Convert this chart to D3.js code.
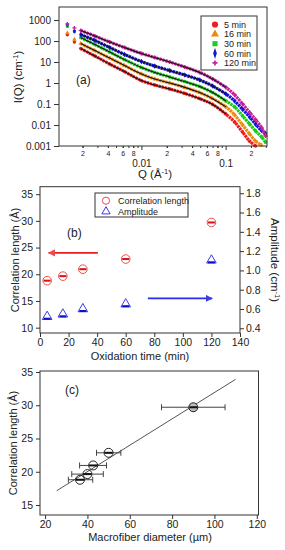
<!DOCTYPE html>
<html><head><meta charset="utf-8">
<script src="https://cdn.jsdelivr.net/npm/d3@7"></script>
<style>body{margin:0;background:#fff}svg{display:block}text{font-family:"Liberation Sans",Arial,sans-serif;fill:#222}</style>
</head><body><svg id="c" width="285" height="550"></svg>
<script>
// ---------- Panel (a) data ----------
const qValues = [0.00132,0.0016,0.0019,0.0028,0.0042,0.0063,0.010,0.0144,0.0217,0.0327,0.0492,0.0702,0.1008,0.128,0.159,0.193,0.227,0.267,0.298];
const i5   = [200,90,44,19.3,8.0,3.5,1.3,0.80,0.52,0.32,0.18,0.095,0.033,0.0139,0.0046,0.0017,0.001,null,null];
const i16  = [240,120,76,35,15.5,6.8,2.7,1.56,1.0,0.62,0.35,0.18,0.073,0.030,0.010,0.0037,0.0017,0.0011,null];
const i30  = [500,280,146,68,30,13,5.5,3.2,1.93,1.17,0.68,0.35,0.14,0.073,0.027,0.011,0.0052,0.0027,0.0015];
const i60  = [600,300,204,106,49,23,10.5,6.4,3.9,2.4,1.39,0.72,0.30,0.14,0.056,0.024,0.011,0.0055,0.004];
const i120 = [650,420,316,173,90,49,25.5,16.4,10,5.8,3.2,1.56,0.62,0.27,0.10,0.039,0.018,0.0075,0.003];
const seriesNames = ["5 min","16 min","30 min","60 min","120 min"];
const yTicksA = [1000,100,10,1,0.1,0.01,0.001];
const yTickLabelsA = ["1000","100","10","1","0.1","0.01","0.001"];
const xMajorA = [0.01,0.1];
const xMajorLabelsA = ["0.01","0.1"];
const xMinorA = [0.002,0.003,0.004,0.005,0.006,0.007,0.008,0.009,0.02,0.03,0.04,0.05,0.06,0.07,0.08,0.09,0.2,0.3];
const xMinorLabeledA = [0.002,0.004,0.006,0.008,0.02,0.04,0.06,0.08,0.2];
const xMinorLabelsA = ["2","4","6","8","2","4","6","8","2"];

// ---------- Panel (b) data ----------
const times = [5,16,30,60,120];
const corrLength = [18.8,19.65,20.95,22.85,29.7];
const amplitude = [0.52,0.545,0.60,0.65,1.105];
const xTicksB = [0,20,40,60,80,100,120,140];
const yTicksBL = [10,15,20,25,30,35];
const yTicksBR = [0.4,0.6,0.8,1.0,1.2,1.4,1.6,1.8];
const redArrow = {x:[40.5,6], y:24.0};
const blueArrow = {x:[75.5,120.5], y:0.71};

// ---------- Panel (c) data ----------
const diameters = [36.5,40,42.7,50,90];
const diamErrLo = [31,32.6,36.3,44.3,75];
const diamErrHi = [42.5,47.5,49,55.8,105];
const fitX = [25.5,110];
const fitY = [17.15,33.9];
const xTicksC = [20,40,60,80,100,120];
const yTicksC = [15,20,25,30,35];

const svg = d3.select("#c");
svg.append("rect").attr("width",285).attr("height",550).attr("fill","#fff");

function styleAxis(g){
  g.select(".domain").remove();
  g.selectAll(".tick line").attr("stroke","#333");
  g.selectAll("text").attr("fill","#222");
}

// ================= Panel A =================
const colors = ["#ee1c1c","#ee8a0c","#1ccc1c","#1414d8","#c8229a"];
const symbols = [d3.symbolCircle,d3.symbolTriangle,d3.symbolSquare,d3.symbolDiamond,d3.symbolCross];
const seriesA = [i5,i16,i30,i60,i120];
const xA = d3.scaleLog().domain([0.00105,0.31]).range([59,267]);
const yA = d3.scaleLog().domain([0.001,4170]).range([146,7]).clamp(true);
const gA = svg.append("g");

seriesA.forEach((s,k)=>{
  const pts = qValues.map((q,i)=>({q,v:s[i],i})).filter(d=>d.v!=null);
  const band = pts.filter(d=>d.i>=2);
  gA.append("path").datum(band)
    .attr("d",d3.line().x(d=>xA(d.q)).y(d=>yA(d.v)).curve(d3.curveCatmullRom))
    .attr("fill","none").attr("stroke",colors[k]).attr("stroke-width",3.2).attr("stroke-dasharray","2.5,0.6");
  gA.selectAll(null).data(pts).join("path")
    .attr("transform",d=>`translate(${xA(d.q)},${yA(d.v)})`)
    .attr("d",d3.symbol().type(symbols[k]).size(9))
    .attr("fill",colors[k]);
});
seriesA.forEach((s,k)=>{
  const fit = qValues.map((q,i)=>({q,v:s[i],i})).filter(d=>d.i>=2 && d.i<=12);
  gA.append("path").datum(fit)
    .attr("d",d3.line().x(d=>xA(d.q)).y(d=>yA(d.v)).curve(d3.curveCatmullRom))
    .attr("fill","none").attr("stroke","#111").attr("stroke-width",1.1);
});
gA.append("rect").attr("x",59).attr("y",7).attr("width",208).attr("height",139)
  .attr("fill","none").attr("stroke","#333").attr("stroke-width",1);
gA.append("g").attr("transform","translate(59,0)")
  .call(d3.axisLeft(yA).tickValues(yTicksA).tickFormat((d,i)=>yTickLabelsA[i]).tickSize(5).tickPadding(3))
  .call(styleAxis).call(g=>g.selectAll("text").attr("font-size",10));
gA.append("g").attr("transform","translate(0,146)")
  .call(d3.axisBottom(xA).tickValues(xMajorA).tickFormat((d,i)=>xMajorLabelsA[i]).tickSize(4).tickPadding(10))
  .call(styleAxis).call(g=>g.selectAll("text").attr("font-size",10));
gA.append("g").attr("transform","translate(0,146)")
  .call(d3.axisBottom(xA).tickValues(xMinorA).tickFormat("").tickSize(2))
  .call(styleAxis);
gA.append("g").attr("transform","translate(0,146)")
  .call(d3.axisBottom(xA).tickValues(xMinorLabeledA).tickFormat((d,i)=>xMinorLabelsA[i]).tickSize(2).tickPadding(3))
  .call(styleAxis).call(g=>g.selectAll("text").attr("font-size",7));
gA.append("text").attr("x",155).attr("y",178).attr("text-anchor","middle").attr("font-size",11.5)
  .html('Q (Å<tspan dy="-4" font-size="7.5">-1</tspan><tspan dy="4">)</tspan>');
gA.append("text").attr("transform","translate(22,77) rotate(-90)").attr("text-anchor","middle").attr("font-size",11.5)
  .html('I(Q) (cm<tspan dy="-4" font-size="7.5">-1</tspan><tspan dy="4">)</tspan>');
gA.append("text").attr("x",76).attr("y",84).attr("font-size",12).attr("font-family","Liberation Serif,serif").text("(a)");
const legA = gA.append("g");
legA.append("rect").attr("x",201).attr("y",16).attr("width",56).attr("height",54)
  .attr("fill","#fff").attr("stroke","#333").attr("stroke-width",1);
const legSizes = [30,28,26,22,14];
seriesNames.forEach((n,k)=>{
  const yy = 24.5 + k*9.6;
  legA.append("path")
    .attr("d",d3.symbol().type(symbols[k]).size(legSizes[k])).attr("fill",colors[k])
    .attr("transform", k==3?`translate(215,${yy}) scale(0.7,1.3)`:`translate(215,${yy})`);
  legA.append("text").attr("x",224).attr("y",yy+3.2).attr("font-size",9).text(n);
});

// ================= Panel B =================
const xB = d3.scaleLinear().domain([0,140]).range([40,240]);
const yBL = d3.scaleLinear().domain([9.0,36.4]).range([333,186.7]);
const yBR = d3.scaleLinear().domain([0.351,1.868]).range([333,186.7]);
const gB = svg.append("g");
gB.append("rect").attr("x",40).attr("y",186.7).attr("width",200).attr("height",146.3)
  .attr("fill","none").attr("stroke","#333");
gB.append("g").attr("transform","translate(40,0)")
  .call(d3.axisLeft(yBL).tickValues(yTicksBL).tickSize(4).tickPadding(3))
  .call(styleAxis).call(g=>g.selectAll("text").attr("font-size",10.5));
gB.append("g").attr("transform","translate(240,0)")
  .call(d3.axisRight(yBR).tickValues(yTicksBR).tickFormat(d3.format(".1f")).tickSize(4).tickPadding(2))
  .call(styleAxis).call(g=>g.selectAll("text").attr("font-size",10.5));
gB.append("g").attr("transform","translate(0,333)")
  .call(d3.axisBottom(xB).tickValues(xTicksB).tickSize(4).tickPadding(2))
  .call(styleAxis).call(g=>g.selectAll("text").attr("font-size",10.5));
gB.append("text").attr("x",140).attr("y",360).attr("text-anchor","middle").attr("font-size",11).text("Oxidation time (min)");
gB.append("text").attr("transform","translate(19,260) rotate(-90)").attr("text-anchor","middle").attr("font-size",11).text("Correlation length (Å)");
gB.append("text").attr("transform","translate(271,260) rotate(90)").attr("text-anchor","middle").attr("font-size",11.5)
  .html('Amplitude (cm<tspan dy="-4" font-size="7.5">-1</tspan><tspan dy="4">)</tspan>');
gB.append("text").attr("x",67).attr("y",237).attr("font-size",12).attr("font-family","Liberation Serif,serif").text("(b)");
const red = "#ee4a4a", blue = "#3a3af0";
times.forEach((t,i)=>{
  const cx = xB(t), cy = yBL(corrLength[i]);
  gB.append("circle").attr("cx",cx).attr("cy",cy).attr("r",4.3).attr("fill","none").attr("stroke",red).attr("stroke-width",1);
  gB.append("line").attr("x1",cx-3.5).attr("x2",cx+3.5).attr("y1",cy).attr("y2",cy).attr("stroke","#d81010").attr("stroke-width",2);
  const ty = yBR(amplitude[i]);
  gB.append("path").attr("transform",`translate(${cx},${ty})`).attr("d",d3.symbol().type(d3.symbolTriangle).size(40))
    .attr("fill","none").attr("stroke",blue).attr("stroke-width",1);
  gB.append("line").attr("x1",cx-3.5).attr("x2",cx+3.5).attr("y1",ty+2).attr("y2",ty+2).attr("stroke","#1010c0").attr("stroke-width",2);
});
const defs = svg.append("defs");
[["ar",red],["ab",blue]].forEach(([id,c])=>{
  defs.append("marker").attr("id",id).attr("viewBox","0 0 10 10").attr("refX",9).attr("refY",5)
    .attr("markerWidth",4.5).attr("markerHeight",4.5).attr("orient","auto")
    .append("path").attr("d","M0,0L10,5L0,10Z").attr("fill",c);
});
gB.append("line").attr("x1",xB(redArrow.x[0])).attr("x2",xB(redArrow.x[1]))
  .attr("y1",yBL(redArrow.y)).attr("y2",yBL(redArrow.y)).attr("stroke","#e02020").attr("stroke-width",1.6).attr("marker-end","url(#ar)");
gB.append("line").attr("x1",xB(blueArrow.x[0])).attr("x2",xB(blueArrow.x[1]))
  .attr("y1",yBR(blueArrow.y)).attr("y2",yBR(blueArrow.y)).attr("stroke","#2a2af0").attr("stroke-width",1.6).attr("marker-end","url(#ab)");
const legB = gB.append("g");
legB.append("rect").attr("x",95).attr("y",193).attr("width",93).attr("height",24).attr("fill","#fff").attr("stroke","#333");
legB.append("circle").attr("cx",106).attr("cy",200.7).attr("r",3.6).attr("fill","none").attr("stroke",red);
legB.append("text").attr("x",118).attr("y",203.8).attr("font-size",9).text("Correlation length");
legB.append("path").attr("transform","translate(106,211.5)").attr("d",d3.symbol().type(d3.symbolTriangle).size(30))
  .attr("fill","none").attr("stroke",blue);
legB.append("text").attr("x",118).attr("y",214.5).attr("font-size",9).text("Amplitude");

// ================= Panel C =================
const xC = d3.scaleLinear().domain([17.6,120.8]).range([40,258.5]);
const yC = d3.scaleLinear().domain([13.5,35.15]).range([515,371]);
const gC = svg.append("g");
gC.append("rect").attr("x",40).attr("y",371).attr("width",218.5).attr("height",144).attr("fill","none").attr("stroke","#333");
gC.append("g").attr("transform","translate(40,0)")
  .call(d3.axisLeft(yC).tickValues(yTicksC).tickSize(4).tickPadding(3))
  .call(styleAxis).call(g=>g.selectAll("text").attr("font-size",10.5));
gC.append("g").attr("transform","translate(0,515)")
  .call(d3.axisBottom(xC).tickValues(xTicksC).tickSize(4).tickPadding(2))
  .call(styleAxis).call(g=>g.selectAll("text").attr("font-size",10.5));
gC.append("text").attr("x",150).attr("y",541).attr("text-anchor","middle").attr("font-size",11).text("Macrofiber diameter (µm)");
gC.append("text").attr("transform","translate(17,443) rotate(-90)").attr("text-anchor","middle").attr("font-size",11).text("Correlation length (Å)");
gC.append("text").attr("x",65).attr("y",394).attr("font-size",12).attr("font-family","Liberation Serif,serif").text("(c)");
gC.append("line").attr("x1",xC(fitX[0])).attr("y1",yC(fitY[0])).attr("x2",xC(fitX[1])).attr("y2",yC(fitY[1]))
  .attr("stroke","#555").attr("stroke-width",1);
diameters.forEach((d,i)=>{
  const cx = xC(d), cy = yC(corrLength[i]);
  const x0 = xC(diamErrLo[i]), x1 = xC(diamErrHi[i]);
  gC.append("line").attr("x1",x0).attr("x2",x1).attr("y1",cy).attr("y2",cy).attr("stroke","#444");
  [x0,x1].forEach(xx=>gC.append("line").attr("x1",xx).attr("x2",xx).attr("y1",cy-3).attr("y2",cy+3).attr("stroke","#444"));
  gC.append("circle").attr("cx",cx).attr("cy",cy).attr("r",4.5).attr("fill",i==4?"#bbb":"none").attr("stroke","#222");
  gC.append("line").attr("x1",cx-4).attr("x2",cx+4).attr("y1",cy).attr("y2",cy).attr("stroke","#111").attr("stroke-width",2);
});
</script></body></html>
